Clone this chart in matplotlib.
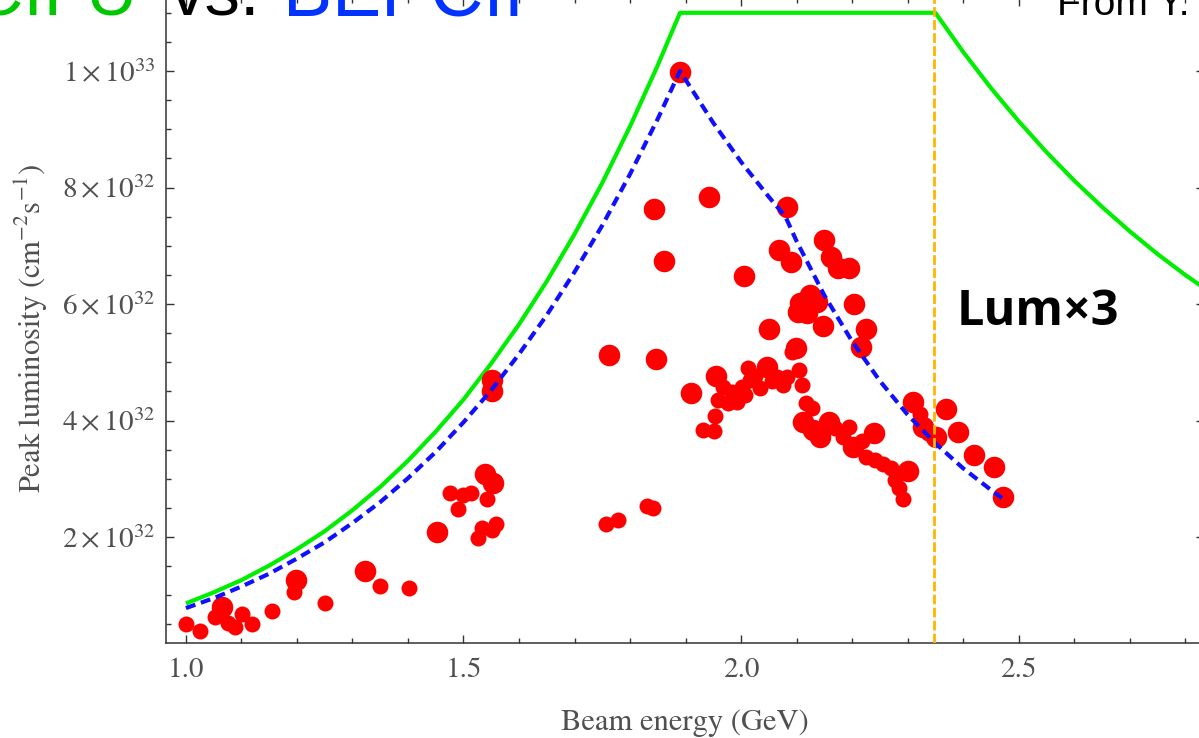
import matplotlib
matplotlib.use("Agg")
import matplotlib.pyplot as plt
from matplotlib.ticker import MultipleLocator

plt.rcParams["font.family"] = "STIXGeneral"
plt.rcParams["mathtext.fontset"] = "stix"

# luminosity values are in units of 1e32 cm^-2 s^-1
green_e = [1.00, 1.05, 1.10, 1.15, 1.20, 1.25, 1.30, 1.35, 1.40, 1.45, 1.50, 1.55,
           1.60, 1.65, 1.70, 1.75, 1.80, 1.85, 1.89, 2.35, 2.40, 2.45, 2.50, 2.55,
           2.60, 2.65, 2.70, 2.75, 2.80, 2.85]
green_lum = [0.86, 1.05, 1.26, 1.51, 1.79, 2.10, 2.46, 2.86, 3.31, 3.81, 4.36, 4.98,
             5.65, 6.39, 7.20, 8.08, 9.05, 10.10, 11.0, 11.0, 10.33, 9.71, 9.14, 8.61,
             8.12, 7.67, 7.25, 6.86, 6.50, 6.17]

blue_e = [1.00, 1.05, 1.10, 1.15, 1.20, 1.25, 1.30, 1.35, 1.40, 1.45, 1.50, 1.55,
          1.60, 1.65, 1.70, 1.75, 1.80, 1.85, 1.89, 1.95, 2.00, 2.05, 2.08, 2.10,
          2.15, 2.20, 2.25, 2.30, 2.35, 2.40, 2.45, 2.47]
blue_lum = [0.78, 0.95, 1.15, 1.37, 1.63, 1.91, 2.24, 2.60, 3.01, 3.46, 3.97, 4.52,
            5.14, 5.81, 6.55, 7.35, 8.23, 9.18, 10.0, 9.11, 8.44, 7.84, 7.50, 7.08,
            6.15, 5.36, 4.68, 4.10, 3.61, 3.18, 2.81, 2.67]

design_energy = 2.348

big_e = [1.065, 1.199, 1.323, 1.452, 1.539, 1.553, 1.551, 1.551, 1.762, 1.846,
         1.890, 1.843, 1.942, 1.861, 2.082, 2.005, 2.150, 2.162, 2.175, 2.195,
         2.068, 2.090, 2.204, 2.225, 2.216, 2.124, 2.106, 2.103, 2.118, 2.136,
         2.147, 2.050, 1.909, 2.099, 1.955, 2.046, 2.111, 2.130, 2.142, 2.159,
         2.201, 2.240, 2.301, 2.309, 2.328, 2.351, 2.369, 2.390, 2.420, 2.456, 2.471]
big_lum = [0.80, 1.26, 1.42, 2.08, 3.08, 2.93, 4.70, 4.51, 5.12, 5.05,
           9.99, 7.63, 7.83, 6.74, 7.66, 6.48, 7.10, 6.80, 6.61, 6.61,
           6.92, 6.73, 6.00, 5.57, 5.27, 6.15, 6.01, 5.86, 5.84, 6.04,
           5.63, 5.57, 4.48, 5.24, 4.77, 4.92, 3.98, 3.84, 3.72, 3.98,
           3.55, 3.79, 3.14, 4.32, 3.89, 3.71, 4.19, 3.80, 3.40, 3.20, 2.69]

small_e = [1.001, 1.026, 1.053, 1.075, 1.089, 1.101, 1.119, 1.155, 1.194, 1.251,
           1.350, 1.401, 1.476, 1.491, 1.500, 1.514, 1.527, 1.533, 1.551, 1.558,
           1.542, 1.756, 1.778, 1.831, 1.842, 2.105, 2.110, 2.091,
           1.931, 1.952, 1.953, 1.959, 1.968, 1.977, 1.992, 2.007, 2.016, 2.013,
           2.034, 2.055, 2.076, 2.082, 2.064, 2.025, 1.983, 2.001,
           2.117, 2.127, 2.169, 2.195, 2.184, 2.217, 2.225, 2.241, 2.256, 2.271,
           2.277, 2.285, 2.291, 2.322, 2.337]
small_lum = [0.51, 0.39, 0.62, 0.53, 0.46, 0.68, 0.51, 0.73, 1.06, 0.87,
             1.16, 1.13, 2.76, 2.48, 2.72, 2.76, 1.98, 2.15, 2.12, 2.22,
             2.65, 2.22, 2.30, 2.53, 2.49, 4.87, 4.61, 5.18,
             3.83, 3.82, 4.07, 4.35, 4.58, 4.30, 4.32, 4.44, 4.70, 4.90,
             4.55, 4.67, 4.61, 4.75, 4.75, 4.77, 4.49, 4.58,
             4.30, 4.21, 3.87, 3.89, 3.72, 3.64, 3.37, 3.32, 3.25, 3.18,
             2.98, 2.84, 2.65, 4.12, 3.78]

y_ticks = [2, 4, 6, 8, 10]
y_labels = [r"$2\times10^{32}$", r"$4\times10^{32}$", r"$6\times10^{32}$",
            r"$8\times10^{32}$", r"$1\times10^{33}$"]
x_ticks = [1.0, 1.5, 2.0, 2.5]

fig = plt.figure(figsize=(11.99, 7.38), dpi=100)
ax = fig.add_axes([0.1384, 0.1287, 0.8658, 0.8737])

ax.plot(green_e, green_lum, color="#00ee00", lw=3, zorder=2, solid_capstyle="butt")
ax.plot(big_e, big_lum, "o", color="#ff0000", ms=15.5, mec="none", zorder=3)
ax.plot(small_e, small_lum, "o", color="#ff0000", ms=11.5, mec="none", zorder=3)
ax.plot(blue_e, blue_lum, color="#1010ff", lw=3, dashes=(2.4, 1.4), zorder=4)
ax.axvline(design_energy, color="#ffb400", lw=2, dashes=(3.5, 1.2), zorder=5)

ax.set_xlim(0.964, 2.834)
ax.set_ylim(0.18, 11.25)
ax.set_xticks(x_ticks)
ax.set_xticklabels(["1.0", "1.5", "2.0", "2.5"])
ax.set_yticks(y_ticks)
ax.set_yticklabels(y_labels)
ax.xaxis.set_minor_locator(MultipleLocator(0.1))
ax.yaxis.set_minor_locator(MultipleLocator(0.5))

ax.tick_params(which="both", direction="in", top=True, right=True,
               color="#333333", width=1.0, labelcolor="#505050", labelsize=21)
ax.tick_params(which="major", length=6)
ax.tick_params(which="minor", length=3.6)
ax.tick_params(axis="x", pad=11)
ax.tick_params(axis="y", pad=8)
for sp in ax.spines.values():
    sp.set_color("#333333")
    sp.set_linewidth(1.1)

ax.set_xlabel("Beam energy (GeV)", fontsize=22, color="#505050")
ax.set_ylabel(r"Peak luminosity (cm$^{-2}$s$^{-1}$)", fontsize=22, color="#505050")
ax.xaxis.set_label_coords(0.5, -0.103)
ax.yaxis.set_label_coords(-0.112, 0.4885)

fig.text(957 / 1199, 1 - 325 / 738, "Lum×3", fontsize=35, fontweight="bold",
         family="Open Sans", color="black", va="baseline")

fig.text(137 / 1199, 1 - 16 / 738, "BEPCII-U", fontsize=51, family="Liberation Sans",
         color="#00c800", ha="right", va="baseline")
fig.text(170 / 1199, 1 - 16 / 738, "vs.", fontsize=51, family="Liberation Sans",
         color="black", va="baseline")
fig.text(283 / 1199, 1 - 16 / 738, "BEPCII", fontsize=53, family="Liberation Sans",
         color="#0033ff", va="baseline")
fig.text(1057 / 1199, 1 - 15 / 738, "From Y.", fontsize=28, family="Liberation Sans",
         color="black", va="baseline")

fig.savefig("out.png", dpi=100)
